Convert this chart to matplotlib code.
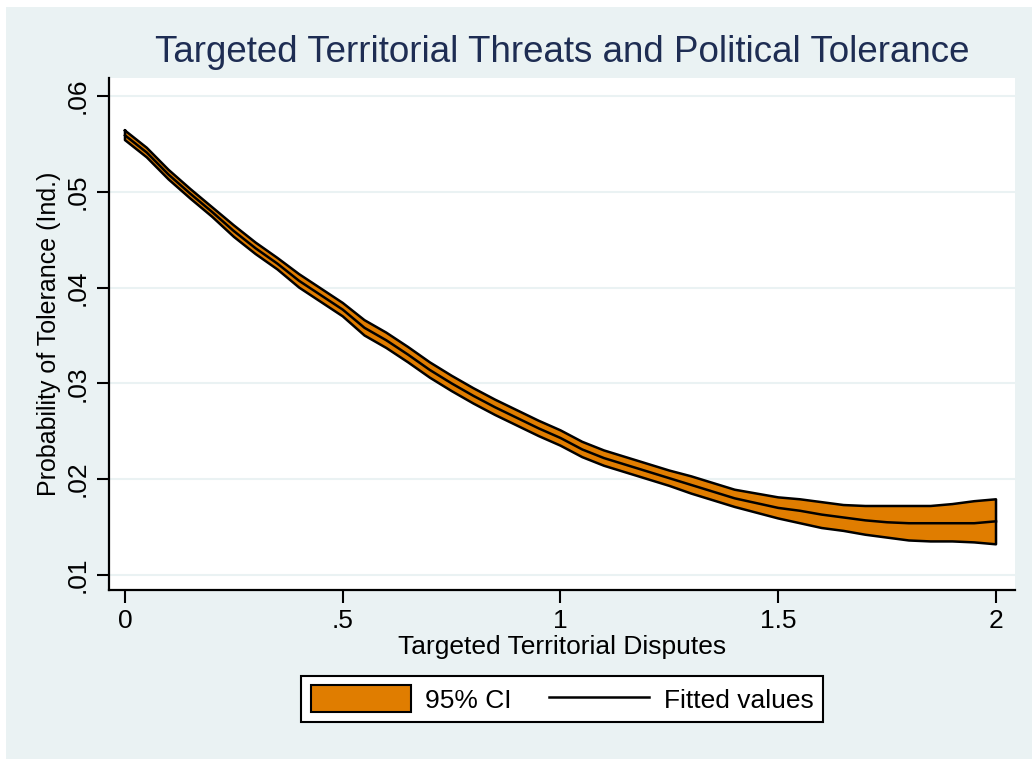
import matplotlib.pyplot as plt
import matplotlib.patches as mpatches
from matplotlib.lines import Line2D
import numpy as np

plt.rcParams['font.family'] = ['Liberation Sans', 'DejaVu Sans']

# Targeted territorial disputes (x) and predicted probability of tolerance
disputes = [0.00, 0.05, 0.10, 0.15, 0.20, 0.25, 0.30, 0.35, 0.40, 0.45,
            0.50, 0.55, 0.60, 0.65, 0.70, 0.75, 0.80, 0.85, 0.90, 0.95,
            1.00, 1.05, 1.10, 1.15, 1.20, 1.25, 1.30, 1.35, 1.40, 1.45,
            1.50, 1.55, 1.60, 1.65, 1.70, 1.75, 1.80, 1.85, 1.90, 1.95, 2.00]

fitted = [0.0559, 0.0541, 0.0518, 0.0498, 0.0479, 0.0459, 0.0441, 0.0425, 0.0407, 0.0392,
          0.0377, 0.0358, 0.0345, 0.0330, 0.0314, 0.0300, 0.0287, 0.0275, 0.0264, 0.0253,
          0.0243, 0.0231, 0.0222, 0.0215, 0.0208, 0.0201, 0.0194, 0.0187, 0.0180, 0.0175,
          0.0170, 0.0167, 0.0163, 0.0160, 0.0157, 0.0155, 0.0154, 0.0154, 0.0154, 0.0154, 0.0156]

ci_upper = [0.0564, 0.0546, 0.0523, 0.0503, 0.0484, 0.0465, 0.0447, 0.0431, 0.0414, 0.0399,
            0.0384, 0.0366, 0.0353, 0.0338, 0.0322, 0.0308, 0.0295, 0.0283, 0.0272, 0.0261,
            0.0251, 0.0239, 0.0230, 0.0223, 0.0216, 0.0209, 0.0203, 0.0196, 0.0189, 0.0185,
            0.0181, 0.0179, 0.0176, 0.0173, 0.0172, 0.0172, 0.0172, 0.0172, 0.0174, 0.0177, 0.0179]

ci_lower = [0.0554, 0.0536, 0.0513, 0.0493, 0.0474, 0.0453, 0.0435, 0.0419, 0.0400, 0.0385,
            0.0370, 0.0350, 0.0337, 0.0322, 0.0306, 0.0292, 0.0279, 0.0267, 0.0256, 0.0245,
            0.0235, 0.0223, 0.0214, 0.0207, 0.0200, 0.0193, 0.0185, 0.0178, 0.0171, 0.0165,
            0.0159, 0.0154, 0.0149, 0.0146, 0.0142, 0.0139, 0.0136, 0.0135, 0.0135, 0.0134, 0.0132]

x_ticks = [0, 0.5, 1, 1.5, 2]
x_tick_labels = ['0', '.5', '1', '1.5', '2']
y_ticks = [0.01, 0.02, 0.03, 0.04, 0.05, 0.06]
y_tick_labels = ['.01', '.02', '.03', '.04', '.05', '.06']

bg_color = '#EAF2F3'
fill_color = '#E07D00'
title_color = '#1E2D53'

fig = plt.figure(figsize=(10.32, 7.59), dpi=100, facecolor='white')
# light graph region, thin white strip on the left and top only
fig.patches.append(mpatches.Rectangle((6 / 1032, 0), 1026 / 1032, 752 / 759,
                                      transform=fig.transFigure, facecolor=bg_color,
                                      edgecolor='none', zorder=-10))

ax = fig.add_axes([109 / 1032, 1 - 590 / 759, (1015 - 109) / 1032, (590 - 78) / 759])
ax.set_facecolor('white')

x = np.array(disputes)
ax.fill_between(x, ci_lower, ci_upper, facecolor=fill_color, edgecolor='none', zorder=2)
poly_x = np.concatenate([x, x[::-1], x[:1]])
poly_y = np.concatenate([ci_upper, ci_lower[::-1], ci_upper[:1]])
ax.plot(poly_x, poly_y, color='black', lw=1.8, zorder=3)
ax.plot(x, fitted, color='black', lw=1.8, zorder=4)

ax.set_xlim(-0.0367, 2.0436)
ax.set_ylim(0.00843, 0.06188)

ax.set_yticks(y_ticks)
ax.set_yticklabels(y_tick_labels, rotation=90, va='center')
ax.set_xticks(x_ticks)
ax.set_xticklabels(x_tick_labels)
ax.tick_params(axis='both', direction='out', length=9, width=1.5, labelsize=19, pad=5)

for yv in y_ticks:
    ax.axhline(yv, color=bg_color, lw=1.5, zorder=1)

for side in ['top', 'right']:
    ax.spines[side].set_visible(False)
for side in ['left', 'bottom']:
    ax.spines[side].set_linewidth(1.6)

ax.set_xlabel('Targeted Territorial Disputes', fontsize=19, va='center')
ax.xaxis.set_label_coords(0.5, (590 - 647) / 512)
ax.set_ylabel('Probability of Tolerance (Ind.)', fontsize=18, va='center')
ax.yaxis.set_label_coords((49 - 109) / 906, 0.5)

fig.text(562 / 1032, 1 - 53 / 759, 'Targeted Territorial Threats and Political Tolerance',
         fontsize=26.5, color=title_color, ha='center', va='center')

handles = [mpatches.Patch(facecolor=fill_color, edgecolor='black', lw=1.5),
           Line2D([0], [0], color='black', lw=1.8)]
leg = fig.legend(handles, ['95% CI', 'Fitted values'], loc='center',
                 bbox_to_anchor=(562 / 1032, 1 - 699 / 759), ncol=2, fontsize=19,
                 handlelength=3.8, handleheight=1.15, handletextpad=0.55,
                 columnspacing=1.4, borderpad=0.35, fancybox=False, framealpha=1,
                 facecolor='white', edgecolor='black')
leg.get_frame().set_linewidth(1.5)

fig.savefig('out.png', dpi=100, facecolor='white')
